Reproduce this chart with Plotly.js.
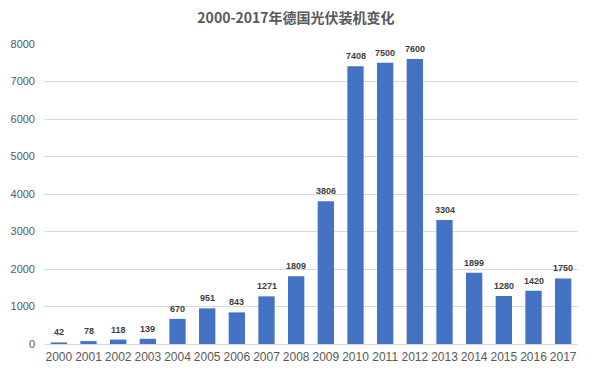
<!DOCTYPE html>
<html><head><meta charset="utf-8">
<script src="https://cdn.plot.ly/plotly-3.0.1.min.js"></script>
<style>html,body{margin:0;padding:0;background:#fff;}#chart{width:592px;height:373px;}</style>
</head><body><div id="chart"></div>
<script>
const years = ["2000","2001","2002","2003","2004","2005","2006","2007","2008","2009","2010","2011","2012","2013","2014","2015","2016","2017"];
const installed = [42,78,118,139,670,951,843,1271,1809,3806,7408,7500,7600,3304,1899,1280,1420,1750];
const yTicks = [0,1000,2000,3000,4000,5000,6000,7000,8000];

const labels = years.map((yr, i) => ({
  x: i, y: installed[i], xref: 'x', yref: 'y', text: String(installed[i]),
  showarrow: false, yanchor: 'bottom', yshift: 3,
  font: {family: 'Liberation Sans, Arial, sans-serif', size: 9, color: '#404040', weight: 'bold'}
}));

Plotly.newPlot('chart', [{
  type: 'bar', x: years, y: installed,
  marker: {color: '#4472C4'},
  hoverinfo: 'none'
}], {
  width: 592, height: 373,
  margin: {l: 44, r: 14, t: 44, b: 29},
  paper_bgcolor: '#fff', plot_bgcolor: '#fff',
  bargap: 0.45,
  showlegend: false,
  annotations: labels,
  title: {text: '2000-2017年德国光伏装机变化', x: 0.5, xanchor: 'center', y: 0.952, yanchor: 'middle',
    font: {family: 'Noto Sans CJK SC, sans-serif', size: 14, color: '#595959', weight: 'bold'}},
  xaxis: {type: 'category', range: [-0.5, years.length - 0.5], tickfont: {family: 'Liberation Sans, Arial, sans-serif', size: 12, color: '#595959'},
    showline: false, ticks: '', showgrid: false, ticklen: 0, ticklabelstandoff: 4},
  yaxis: {range: [0, 8000], tickvals: yTicks, ticktext: yTicks.map(String),
    tickfont: {family: 'Liberation Sans, Arial, sans-serif', size: 11, color: '#595959'},
    showgrid: true, gridcolor: '#D9D9D9', gridwidth: 1, zeroline: true, zerolinecolor: '#D9D9D9', zerolinewidth: 1,
    showline: false, ticks: '', ticklabelstandoff: 8}
}, {displayModeBar: false, staticPlot: true});
</script></body></html>
